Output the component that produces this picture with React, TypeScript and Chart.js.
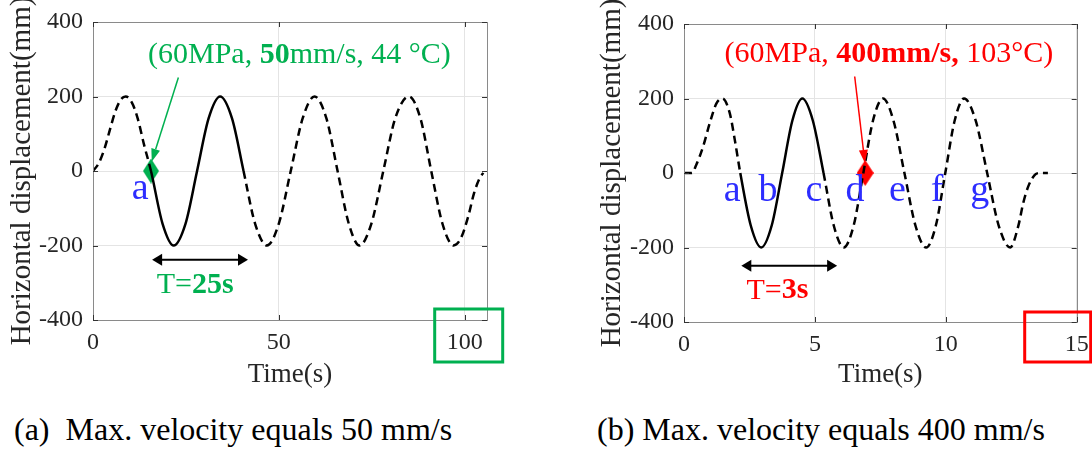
import React, { useEffect, useRef } from 'react';
import { Chart, registerables } from 'chart.js';

Chart.register(...registerables);

const FONT = '"Liberation Serif", "Times New Roman", serif';

// ---------- Panel (a): max. velocity 50 mm/s ----------
const timeA = [0, 1.5, 3, 4.5, 6, 7.5, 8.8, 10.5, 12, 13.8, 15.6, 18.7, 21.7, 24.9, 28.0, 31.1, 34.2, 37.4, 40.5, 43.6, 46.8, 50.0, 53.2, 56.4, 59.6, 62.8, 65.8, 68.8, 71.7, 74.9, 78.1, 81.3, 85.0, 88.1, 91.0, 94.0, 97.0, 99.0, 101.0, 102.5, 104.0, 105.0];
const dispA = [0, 20, 57, 109, 160, 192, 200, 183, 142, 68, 0, -141, -200, -141, 0, 141, 200, 141, 0, -141, -200, -141, 0, 141, 200, 141, 0, -141, -200, -141, 0, 141, 200, 141, 0, -141, -200, -180, -120, -60, -20, -5];
const solidRangeA = [15.6, 40.5];
const markerTimeA = [15.6];
const markerDispA = [0];
const xTicksA = [0, 50, 100];

// ---------- Panel (b): max. velocity 400 mm/s ----------
const timeB = [0, 0.3, 0.47, 0.73, 0.98, 1.24, 1.47, 1.75, 1.94, 2.15, 2.55, 2.95, 3.35, 3.75, 4.14, 4.52, 4.92, 5.33, 5.72, 6.1, 6.48, 6.85, 7.22, 7.6, 8.0, 8.42, 8.84, 9.25, 9.62, 9.98, 10.34, 10.7, 11.14, 11.58, 12.02, 12.46, 12.77, 12.96, 13.15, 13.4, 13.6, 13.9];
const dispB = [0, 0, 22, 71, 133, 187, 200, 160, 89, 0, -141, -200, -141, 0, 141, 200, 141, 0, -141, -200, -141, 0, 141, 200, 141, 0, -141, -200, -141, 0, 141, 200, 141, 0, -141, -200, -142, -80, -36, -5, 0, 0];
const solidRangeB = [2.15, 5.33];
const markerTimeB = [6.92];
const markerDispB = [0];
const xTicksB = [0, 5, 10, 15];

const yTicks = [-400, -200, 0, 200, 400];

const GREEN = '#00b050';
const RED = '#ff0000';
const BLUE = 'rgb(45,45,255)';

type Run = { text: string; bold: boolean };

const panelA = {
  time: timeA, disp: dispA, solid: solidRangeA, mTime: markerTimeA, mDisp: markerDispA,
  xTicks: xTicksA, xMax: 106, color: GREEN, diamond: [16, 25],
  width: 560, top: 19, bottom: 320, axisLeft: 93, right: 560 - 487, yTitleX: 22,
  title: { runs: [{ text: '(60MPa, ', bold: false }, { text: '50', bold: true }, { text: 'mm/s, 44 \u00b0C)', bold: false }] as Run[], x: 14.8, y: 310 },
  pointer: { from: [22.97, 251], to: [15.8, 25] },
  letters: [{ t: 'a', x: 12.7 }], letterY: -75,
  period: { x1: 15.9, x2: 41.7, y: -238 },
  periodText: { runs: [{ text: 'T=', bold: false }, { text: '25s', bold: true }] as Run[], x: 27.5, y: -307 },
  box: { tick: 100, dx: -30, w: 68, dy: -11, h: 53 },
};

const panelB = {
  time: timeB, disp: dispB, solid: solidRangeB, mTime: markerTimeB, mDisp: markerDispB,
  xTicks: xTicksB, xMax: 15, color: RED, diamond: [17, 26],
  width: 530, top: 24, bottom: 322, axisLeft: 94, right: 530 - 486.7, yTitleX: 22,
  title: { runs: [{ text: '(60MPa, ', bold: false }, { text: '400mm/s,', bold: true }, { text: ' 103\u00b0C)', bold: false }] as Run[], x: 1.55, y: 320 },
  pointer: { from: [6.52, 259], to: [6.91, 27] },
  letters: [
    { t: 'a', x: 1.84 }, { t: 'b', x: 3.21 }, { t: 'c', x: 4.96 }, { t: 'd', x: 6.53 },
    { t: 'e', x: 8.15 }, { t: 'f', x: 9.67 }, { t: 'g', x: 11.3 },
  ], letterY: -76,
  period: { x1: 2.19, x2: 5.85, y: -249 },
  periodText: { runs: [{ text: 'T=', bold: false }, { text: '3s', bold: true }] as Run[], x: 3.57, y: -316 },
  box: { tick: 15, dx: -52, w: 66, dy: -10, h: 50 },
};

function diamondCanvas(color: string, w: number, h: number) {
  const c = document.createElement('canvas');
  c.width = w; c.height = h;
  const g = c.getContext('2d')!;
  g.fillStyle = color;
  g.beginPath();
  g.moveTo(w / 2, 0); g.lineTo(w, h / 2); g.lineTo(w / 2, h); g.lineTo(0, h / 2);
  g.closePath(); g.fill();
  return c;
}

function runsWidth(ctx: CanvasRenderingContext2D, runs: Run[], size: number) {
  let w = 0;
  for (const r of runs) {
    ctx.font = `${r.bold ? 'bold ' : ''}${size}px ${FONT}`;
    w += ctx.measureText(r.text).width;
  }
  return w;
}

function drawRuns(ctx: CanvasRenderingContext2D, runs: Run[], x: number, y: number, size: number, color: string, align: 'left' | 'center') {
  let cx = align === 'center' ? x - runsWidth(ctx, runs, size) / 2 : x;
  ctx.fillStyle = color;
  ctx.textAlign = 'left';
  ctx.textBaseline = 'middle';
  for (const r of runs) {
    ctx.font = `${r.bold ? 'bold ' : ''}${size}px ${FONT}`;
    ctx.fillText(r.text, cx, y);
    cx += ctx.measureText(r.text).width;
  }
}

function head(ctx: CanvasRenderingContext2D, x1: number, y1: number, x2: number, y2: number, len: number, wid: number) {
  const a = Math.atan2(y2 - y1, x2 - x1);
  const bx = x2 - len * Math.cos(a), by = y2 - len * Math.sin(a);
  ctx.beginPath();
  ctx.moveTo(x2, y2);
  ctx.lineTo(bx + (wid / 2) * Math.sin(a), by - (wid / 2) * Math.cos(a));
  ctx.lineTo(bx - (wid / 2) * Math.sin(a), by + (wid / 2) * Math.cos(a));
  ctx.closePath();
  ctx.fill();
  return [bx, by];
}

function makePlugin(p: any) {
  return {
    id: 'annot',
    afterDatasetsDraw(chart: any) {
      const { ctx, chartArea: ca, scales } = chart;
      const xs = scales.x, ys = scales.y;
      ctx.save();
      // box
      ctx.strokeStyle = '#8a8a8a';
      ctx.lineWidth = 1;
      ctx.strokeRect(Math.round(ca.left) + 0.5, Math.round(ca.top) + 0.5, Math.round(ca.right - ca.left), Math.round(ca.bottom - ca.top));
      // inward ticks
      ctx.strokeStyle = '#333';
      ctx.beginPath();
      for (const v of p.xTicks) {
        const px = Math.round(xs.getPixelForValue(v)) + 0.5;
        ctx.moveTo(px, ca.bottom); ctx.lineTo(px, ca.bottom - 5);
        ctx.moveTo(px, ca.top); ctx.lineTo(px, ca.top + 5);
      }
      for (const v of yTicks) {
        const py = Math.round(ys.getPixelForValue(v)) + 0.5;
        ctx.moveTo(ca.left, py); ctx.lineTo(ca.left + 5, py);
        ctx.moveTo(ca.right, py); ctx.lineTo(ca.right - 5, py);
      }
      ctx.stroke();

      // title annotation
      drawRuns(ctx, p.title.runs, xs.getPixelForValue(p.title.x), ys.getPixelForValue(p.title.y), 30, p.color, 'left');
      // pointer arrow
      const fx = xs.getPixelForValue(p.pointer.from[0]), fy = ys.getPixelForValue(p.pointer.from[1]);
      const tx = xs.getPixelForValue(p.pointer.to[0]), ty = ys.getPixelForValue(p.pointer.to[1]);
      ctx.fillStyle = p.color; ctx.strokeStyle = p.color; ctx.lineWidth = 1.5;
      const [bx, by] = head(ctx, fx, fy, tx, ty, 13, 9);
      ctx.beginPath(); ctx.moveTo(fx, fy); ctx.lineTo(bx, by); ctx.stroke();
      // letters
      ctx.fillStyle = BLUE;
      ctx.font = `38px ${FONT}`;
      ctx.textAlign = 'center';
      ctx.textBaseline = 'alphabetic';
      for (const l of p.letters) {
        ctx.fillText(l.t, xs.getPixelForValue(l.x), ys.getPixelForValue(p.letterY));
      }
      // period double arrow
      const x1 = xs.getPixelForValue(p.period.x1), x2 = xs.getPixelForValue(p.period.x2), yy = ys.getPixelForValue(p.period.y);
      ctx.fillStyle = '#000'; ctx.strokeStyle = '#000'; ctx.lineWidth = 2;
      head(ctx, x2, yy, x1, yy, 10, 12);
      head(ctx, x1, yy, x2, yy, 10, 12);
      ctx.beginPath(); ctx.moveTo(x1 + 9, yy); ctx.lineTo(x2 - 9, yy); ctx.stroke();
      drawRuns(ctx, p.periodText.runs, xs.getPixelForValue(p.periodText.x), ys.getPixelForValue(p.periodText.y), 30, p.color, 'center');
      ctx.restore();
    },
    afterDraw(chart: any) {
      const { ctx, chartArea: ca, scales } = chart;
      ctx.save();
      // y title
      ctx.translate(p.yTitleX, (ca.top + ca.bottom) / 2);
      ctx.rotate(-Math.PI / 2);
      ctx.fillStyle = '#262626';
      ctx.font = `29px ${FONT}`;
      ctx.textAlign = 'center';
      ctx.textBaseline = 'middle';
      ctx.fillText('Horizontal displacement(mm)', 0, 0);
      ctx.restore();
      // highlight box round last tick label
      ctx.save();
      const bx = scales.x.getPixelForValue(p.box.tick) + p.box.dx;
      ctx.strokeStyle = p.color;
      ctx.lineWidth = 3;
      ctx.strokeRect(bx, ca.bottom + p.box.dy, p.box.w, p.box.h);
      ctx.restore();
    },
  };
}

function buildConfig(p: any) {
  const [s0, s1] = p.solid;
  const solid = (c: any) => c.p0.parsed.x >= s0 - 1e-6 && c.p1.parsed.x <= s1 + 1e-6;
  const tickFont = { family: FONT, size: 24, lineHeight: 1 };
  return {
    type: 'line',
    data: {
      datasets: [
        {
          data: p.time.map((t: number, i: number) => ({ x: t, y: p.disp[i] })),
          borderColor: '#000',
          borderWidth: 2.5,
          pointRadius: 0,
          fill: false,
          cubicInterpolationMode: 'monotone',
          borderCapStyle: 'butt',
          segment: { borderDash: (c: any) => (solid(c) ? [] : [8, 5]) },
        },
        {
          data: p.mTime.map((t: number, i: number) => ({ x: t, y: p.mDisp[i] })),
          showLine: false,
          pointStyle: diamondCanvas(p.color, p.diamond[0], p.diamond[1]),
          pointRadius: 10,
        },
      ],
    },
    options: {
      animation: false,
      responsive: false,
      events: [],
      layout: { padding: { left: 0, top: p.top, right: p.right, bottom: 0 } },
      plugins: { legend: { display: false }, tooltip: { enabled: false } },
      scales: {
        x: {
          type: 'linear', min: 0, max: p.xMax,
          afterBuildTicks: (s: any) => { s.ticks = p.xTicks.map((v: number) => ({ value: v })); },
          afterFit: (s: any) => { s.height = 400 - p.bottom; },
          grid: { color: '#e4e4e4', drawTicks: false },
          border: { display: false },
          ticks: { padding: 11, font: tickFont, color: '#262626', maxRotation: 0, autoSkip: false },
          title: { display: true, text: 'Time(s)', color: '#262626', font: { family: FONT, size: 27, lineHeight: 1 }, padding: { top: 0, bottom: 12 } },
        },
        y: {
          type: 'linear', min: -400, max: 400,
          afterBuildTicks: (s: any) => { s.ticks = yTicks.map((v) => ({ value: v })); },
          afterFit: (s: any) => { s.width = p.axisLeft; },
          grid: { color: '#e4e4e4', drawTicks: false },
          border: { display: false },
          ticks: { padding: 10, font: tickFont, color: '#262626' },
        },
      },
    },
    plugins: [makePlugin(p)],
  };
}

function Panel({ p, left }: { p: any; left: number }) {
  const ref = useRef<HTMLCanvasElement>(null);
  useEffect(() => {
    const chart = new Chart(ref.current as HTMLCanvasElement, buildConfig(p) as any);
    return () => chart.destroy();
  }, []);
  return (
    <canvas ref={ref} width={p.width} height={400}
      style={{ position: 'absolute', left, top: 0, width: p.width, height: 400 }} />
  );
}

const captionStyle: React.CSSProperties = {
  position: 'absolute', top: 413, fontFamily: FONT, fontSize: 32, lineHeight: '32px',
  whiteSpace: 'pre', color: '#000',
};

export default function App() {
  return (
    <div style={{ position: 'absolute', left: 0, top: 0, width: 1092, height: 450, background: '#fff', overflow: 'hidden' }}>
      <Panel p={panelA} left={0} />
      <Panel p={panelB} left={590} />
      <div style={{ ...captionStyle, left: 14 }}>{'(a)  Max. velocity equals 50 mm/s'}</div>
      <div style={{ ...captionStyle, left: 597 }}>{'(b) Max. velocity equals 400 mm/s'}</div>
    </div>
  );
}
